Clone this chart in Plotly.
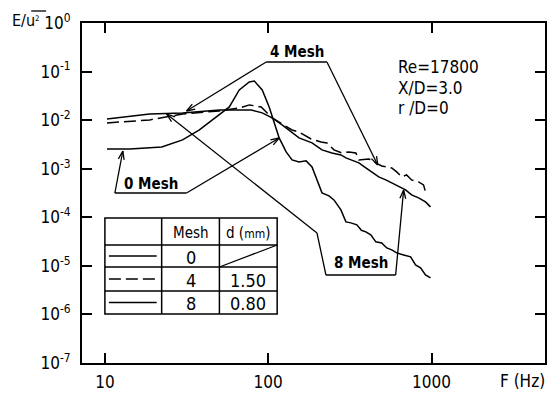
import math
import plotly.graph_objects as go

# Power spectra E/u'^2 vs frequency at X/D=3.0, r/D=0 (Re=17800)
freq_0 = [10.3, 14.2, 22.3, 29.9, 37.9, 48.2, 57.8, 66.5, 76.6, 82.2, 91.9, 101.4,
          108.8, 116.7, 128.8, 140.0, 154.5, 170.6, 185.5, 199.0, 213.5, 235.6, 252.7,
          278.8, 299.2, 320.8, 349.1, 372.0, 396.2, 424.9, 456.0, 495.7, 532.0, 570.6,
          612.3, 675.2, 745.0, 798.6, 857.0, 918.8, 985.7]
spec_0 = [2.55e-3, 2.55e-3, 2.81e-3, 3.92e-3, 6.28e-3, 1.16e-2, 1.87e-2, 4.18e-2,
          6.11e-2, 6.41e-2, 4.18e-2, 1.87e-2, 8.75e-3, 4.30e-3, 2.22e-3, 1.52e-3,
          1.38e-3, 1.45e-3, 1.09e-3, 5.88e-4, 3.18e-4, 2.76e-4, 2.28e-4, 1.42e-4,
          8.04e-5, 7.67e-5, 6.98e-5, 5.40e-5, 5.01e-5, 4.35e-5, 3.12e-5, 2.97e-5,
          2.34e-5, 2.13e-5, 1.85e-5, 1.68e-5, 1.53e-5, 1.05e-5, 9.10e-6, 6.53e-6,
          5.66e-6]

freq_4 = [10.3, 18.8, 29.9, 50.2, 66.5, 76.6, 90.6, 105.7, 121.6, 140.0, 154.5,
          165.9, 183.0, 210.5, 229.0, 252.7, 282.7, 311.9, 344.3, 359.0, 413.3,
          456.0, 495.7, 532.0, 570.6, 612.3, 656.3, 704.0, 755.0, 833.7, 893.7, 918.8]
spec_4 = [8.75e-3, 1.01e-2, 1.34e-2, 1.55e-2, 1.78e-2, 2.06e-2, 1.87e-2, 1.11e-2,
          8.35e-3, 6.28e-3, 5.71e-3, 4.96e-3, 4.10e-3, 3.56e-3, 3.40e-3, 2.44e-3,
          2.11e-3, 2.22e-3, 2.11e-3, 1.52e-3, 1.59e-3, 1.32e-3, 1.14e-3, 1.09e-3,
          1.04e-3, 8.59e-4, 6.78e-4, 7.45e-4, 5.88e-4, 5.35e-4, 4.64e-4, 3.33e-4]

freq_8 = [10.3, 18.8, 29.9, 50.2, 66.5, 78.7, 91.9, 105.7, 121.6, 140.0, 154.5,
          185.5, 213.5, 245.5, 278.8, 299.2, 325.3, 359.0, 396.2, 430.5, 475.3,
          524.8, 570.6, 629.6, 693.5, 755.0, 833.7, 918.8, 985.7]
spec_8 = [1.06e-2, 1.34e-2, 1.41e-2, 1.62e-2, 1.62e-2, 1.62e-2, 1.41e-2, 1.11e-2,
          7.96e-3, 5.45e-3, 4.30e-3, 3.40e-3, 2.44e-3, 2.11e-3, 1.92e-3, 1.67e-3,
          1.52e-3, 1.32e-3, 1.04e-3, 8.59e-4, 6.78e-4, 5.88e-4, 5.10e-4, 4.23e-4,
          3.66e-4, 2.89e-4, 2.51e-4, 2.07e-4, 1.64e-4]

x_ticks = [10, 100, 1000]
y_ticks = [1, 1e-1, 1e-2, 1e-3, 1e-4, 1e-5, 1e-6, 1e-7]
y_labels = ["10<sup>0</sup>", "10<sup>-1</sup>", "10<sup>-2</sup>", "10<sup>-3</sup>",
            "10<sup>-4</sup>", "10<sup>-5</sup>", "10<sup>-6</sup>", "10<sup>-7</sup>"]

table_mesh = ["0", "4", "8"]
table_d = ["", "1.50", "0.80"]
table_dash = ["solid", "12px,5px", "solid"]

FONT = "Liberation Sans Narrow, DejaVu Sans Condensed, Arial Narrow, sans-serif"
INK = "black"

# page geometry of the plotting frame, in pixels
WIDTH, HEIGHT = 549, 394
L, T, R, B = 82, 23, 547, 363


def px(x):
    return (x - L) / (R - L)


def py(y):
    return (B - y) / (B - T)


fig = go.Figure()
fig.add_trace(go.Scatter(x=freq_0, y=spec_0, mode="lines",
                         line=dict(color=INK, width=1.5), showlegend=False))
fig.add_trace(go.Scatter(x=freq_4, y=spec_4, mode="lines",
                         line=dict(color=INK, width=1.5, dash="12px,5px"), showlegend=False))
fig.add_trace(go.Scatter(x=freq_8, y=spec_8, mode="lines",
                         line=dict(color=INK, width=1.5), showlegend=False))

shapes = []
annotations = []


def seg(x0, y0, x1, y1, width=1.3, dash="solid"):
    shapes.append(dict(type="line", xref="paper", yref="paper",
                       x0=px(x0), y0=py(y0), x1=px(x1), y1=py(y1),
                       line=dict(color=INK, width=width, dash=dash)))


def arrow(tail, tip, head=9, spread=0.33):
    seg(tail[0], tail[1], tip[0], tip[1])
    ang = math.atan2(tail[1] - tip[1], tail[0] - tip[0])
    for s in (-spread, spread):
        seg(tip[0], tip[1], tip[0] + head * math.cos(ang + s), tip[1] + head * math.sin(ang + s))


def label(text, x, y, size=16, xanchor="center", bold=False):
    if bold:
        text = "<b>" + text + "</b>"
    annotations.append(dict(text=text, x=px(x), y=py(y), xref="paper", yref="paper",
                            xanchor=xanchor, yanchor="middle", showarrow=False,
                            font=dict(family=FONT, size=size, color=INK)))


# callout: 0 Mesh
label("0 Mesh", 151, 184, size=15, bold=True)
seg(115, 193, 187, 193)
arrow((115, 193), (123, 151))
arrow((187, 193), (280, 138))

# callout: 4 Mesh
label("4 Mesh", 298, 52, size=15, bold=True)
seg(267, 62, 328, 62)
arrow((267, 62), (187, 111))
arrow((328, 62), (379, 165))

# callout: 8 Mesh
label("8 Mesh", 362, 263, size=15, bold=True)
arrow((318, 233), (167, 114))
seg(318, 233, 327, 275)
seg(327, 275, 397, 275)
arrow((397, 275), (405, 190))

# flow conditions
label("Re=17800", 397, 67, size=17, xanchor="left")
label("X/D=3.0", 397, 88, size=17, xanchor="left")
label("r /D=0", 397, 108, size=17, xanchor="left")

# axis titles
label("E/u<span style='font-size:11px'><sup>2</sup></span>", 10, 20, size=16, xanchor="left")
seg(31, 11, 46, 11, width=1.3)
label("F (Hz)", 549, 381, size=17, xanchor="right")

# line-style table
tx0, tx1, tx2, tx3 = 105, 162, 220, 278
ty = [218, 245, 267, 291, 314]
shapes.append(dict(type="rect", xref="paper", yref="paper",
                   x0=px(tx0), y0=py(ty[0]), x1=px(tx3), y1=py(ty[-1]),
                   fillcolor="white", line=dict(color=INK, width=1.5)))
for xv in (tx1, tx2):
    seg(xv, ty[0], xv, ty[-1], width=1.5)
for yv in ty[1:-1]:
    seg(tx0, yv, tx3, yv, width=1.5)
seg(tx2, ty[2], tx3, ty[1], width=1.3)
label("Mesh", (tx1 + tx2) / 2, (ty[0] + ty[1]) / 2 + 1, size=15)
label("d (<span style='font-size:12px'>mm</span>)", (tx2 + tx3) / 2, (ty[0] + ty[1]) / 2 + 1, size=15)
for i, (m, d, dash) in enumerate(zip(table_mesh, table_d, table_dash)):
    yc = (ty[i + 1] + ty[i + 2]) / 2
    seg(tx0 + 4, yc, tx1 - 5, yc, width=1.5, dash=dash)
    label(m, (tx1 + tx2) / 2, yc + 1, size=18)
    if d:
        label(d, (tx2 + tx3) / 2, yc + 1, size=18)

axis_common = dict(showline=True, linecolor=INK, linewidth=2, mirror="ticks",
                   ticks="inside", ticklen=10, tickwidth=1.5, tickcolor=INK,
                   showgrid=False, zeroline=False,
                   tickfont=dict(family=FONT, size=17, color=INK))

fig.update_xaxes(type="log", range=[0.8598, 3.695], tickvals=x_ticks,
                 ticktext=[str(v) for v in x_ticks], ticklabelstandoff=3, **axis_common)
fig.update_yaxes(type="log", range=[-7, 0], tickvals=y_ticks, ticktext=y_labels,
                 ticklabelstandoff=6, **axis_common)

fig.update_layout(width=WIDTH, height=HEIGHT, margin=dict(l=L, r=WIDTH - R, t=T, b=HEIGHT - B),
                  paper_bgcolor="white", plot_bgcolor="white",
                  shapes=shapes, annotations=annotations)

fig.write_html("out.html")
